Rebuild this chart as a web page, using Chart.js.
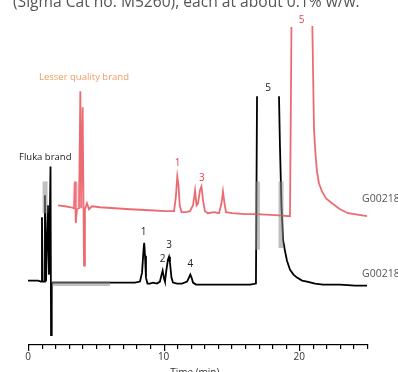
<!DOCTYPE html>
<html>
<head>
<meta charset="utf-8">
<script src="https://cdn.jsdelivr.net/npm/chart.js@4"></script>
<style>
  html, body { margin: 0; padding: 0; background: #fff; }
  #wrap { width: 398px; height: 372px; }
</style>
</head>
<body>
<div id="wrap"><canvas id="grafico"></canvas></div>
<script>
const flukaTempo = [0, 0.74, 0.96, 1.03, 1.08, 1.18, 1.25, 1.33, 1.47, 1.55, 1.66, 1.70, 1.75, 1.84,
    2.36, 3.83, 5.31, 6.78, 7.89, 8.26, 8.41, 8.52, 8.57, 8.63, 8.70, 8.81, 8.99, 9.22, 9.51,
    9.73, 9.85, 9.93, 10.03, 10.10, 10.21, 10.32, 10.40, 10.47, 10.58, 10.69, 10.99, 11.36,
    11.73, 11.87, 11.97, 12.06, 12.17, 12.39, 13.05, 14.16, 15.27, 16.37, 16.81, 16.89, 17.7,
    18.51, 18.58, 18.69, 18.81, 18.95, 19.10, 19.32, 19.58, 19.84, 20.21, 20.58, 21.17, 21.76,
    23.01, 24.12, 25.0];
const flukaSinal = [64, 64, 63, 128, 63, 63, 150, 63, 140, 70, 179, 9, 60, 62,
    62, 62, 62, 62, 62, 63, 72, 95, 102, 89, 67, 61, 61, 62, 61,
    63, 70, 74, 66, 63, 75, 85, 88, 82, 67, 62, 61, 61,
    63, 67, 70, 67, 62, 60, 60, 60, 60, 60, 61, 250, null,
    250, 200, 140, 105, 94, 84, 75, 70, 67, 64, 63, 61, 60,
    60, 59, 59];

const inferiorTempo = [2.21, 2.73, 3.17, 3.39, 3.47, 3.52, 3.61, 3.76, 3.86, 3.92, 4.03, 4.13, 4.20,
    4.35, 4.50, 4.72, 5.31, 6.42, 7.52, 9.00, 10.10, 10.77, 10.90, 11.01, 11.10, 11.19, 11.32,
    11.65, 11.95, 12.17, 12.32, 12.43, 12.54, 12.68, 12.79, 12.91, 13.05, 13.27, 13.72, 14.09,
    14.27, 14.38, 14.49, 14.60, 15.04, 16.00, 16.81, 18.21, 19.32, 19.43, 20.2, 20.97, 21.09,
    21.20, 21.31, 21.46, 21.68, 21.98, 22.42, 23.01, 23.60, 25.0, 27.29];
const inferiorSinal = [140, 139, 138, 137, 164, 122, 136, 137, 255, 137, 239, 79, 136,
    142, 136, 139, 138, 137, 136, 135, 134, 134, 148, 169, 160, 140, 133,
    133, 134, 140, 155, 140, 142, 155, 159, 145, 134, 132, 133, 132,
    142, 154, 142, 133, 132, 131, 131, 130, 129, 320, null, 321, 217,
    192, 174, 162, 154, 147, 142, 136, 132, 129, 127];

// borrões cinzentos da digitalização
const borraoTempo = [1.77, 6.05, 6.1, 1.26, 1.26, 1.3, 16.92, 16.92, 17.0, 18.66, 18.66];
const borraoSinal = [61, 61, null, 164, 132, null, 164, 95, null, 164, 97];
const borraoVermTempo = [3.30, 4.15];
const borraoVermSinal = [150, 150];

// picos identificados
const picosFluka = ['1', '2', '3', '4', '5'];
const picosFlukaTempo = [8.53, 9.93, 10.40, 11.97, 17.70];
const picosFlukaSinal = [113, 86, 100, 81, 258];
const picosInferior = ['1', '3', '5'];
const picosInferiorTempo = [11.04, 12.83, 20.18];
const picosInferiorSinal = [182, 167, 327];

const eixoTicks = [0, 10, 20];
const minutos = [0, 1, 2, 3, 4, 5, 6, 7, 8, 9, 10, 11, 12, 13, 14, 15, 16, 17, 18, 19, 20, 21, 22, 23, 24, 25];

function pontos(tempos, sinais) {
    return tempos.map((t, i) => ({ x: t, y: sinais[i] }));
}

const fonte = '"Open Sans", "Noto Sans", sans-serif';

const textos = {
    id: 'textos',
    afterDraw(chart) {
        const ctx = chart.ctx;
        const xs = chart.scales.x;
        const ys = chart.scales.y;
        ctx.save();
        ctx.textAlign = 'center';
        ctx.textBaseline = 'middle';
        ctx.font = '10px ' + fonte;
        ctx.fillStyle = '#222';
        picosFluka.forEach((p, i) => {
            ctx.fillText(p, xs.getPixelForValue(picosFlukaTempo[i]), ys.getPixelForValue(picosFlukaSinal[i]));
        });
        ctx.fillStyle = '#e8404a';
        picosInferior.forEach((p, i) => {
            ctx.fillText(p, xs.getPixelForValue(picosInferiorTempo[i]), ys.getPixelForValue(picosInferiorSinal[i]));
        });

        // eixo e ticks: menores a cada minuto, maiores nos rótulos
        const yEixo = Math.round(chart.chartArea.bottom);
        ctx.fillStyle = '#000';
        ctx.fillRect(Math.round(xs.left), yEixo, Math.round(xs.right - xs.left) + 1, 1.2);
        minutos.forEach(t => {
            const px = Math.round(xs.getPixelForValue(t));
            ctx.fillRect(px, yEixo, 1.2, eixoTicks.includes(t) ? 7 : 5);
        });

        ctx.textAlign = 'left';
        ctx.font = '9.5px ' + fonte;
        ctx.fillStyle = '#f39a62';
        ctx.fillText('Lesser quality brand', 39, 77);
        ctx.fillStyle = '#222';
        ctx.fillText('Fluka brand', 19, 157);
        ctx.font = '10.5px ' + fonte;
        ctx.fillStyle = '#555';
        ctx.fillText('G00218', 362, 199);
        ctx.fillText('G00218', 362, 274);

        ctx.font = '15.6px ' + fonte;
        ctx.textBaseline = 'alphabetic';
        ctx.fillText('(Sigma Cat no. M5260), each at about 0.1% w/w.', 13, 7);

        ctx.textAlign = 'center';
        ctx.font = '10px ' + fonte;
        ctx.fillStyle = '#333';
        ctx.fillText('Time (min)', xs.getPixelForValue(12.3), 376);
        ctx.restore();
    }
};

const ctx = document.getElementById('grafico').getContext('2d');
const chart = new Chart(ctx, {
    type: 'line',
    data: {
        datasets: [{
            label: 'smear',
            data: pontos(borraoTempo, borraoSinal),
            borderColor: 'rgba(140,140,140,0.55)',
            borderWidth: 5,
            pointRadius: 0,
            spanGaps: false
        }, {
            label: 'smear red',
            data: pontos(borraoVermTempo, borraoVermSinal),
            borderColor: 'rgba(238,130,140,0.3)',
            borderWidth: 26,
            borderCapStyle: 'butt',
            pointRadius: 0
        }, {
            label: 'Lesser quality brand',
            data: pontos(inferiorTempo, inferiorSinal),
            borderColor: 'rgba(228,50,60,0.72)',
            borderWidth: 1.8,
            pointRadius: 0,
            spanGaps: false,
            clip: false
        }, {
            label: 'Fluka brand',
            data: pontos(flukaTempo, flukaSinal),
            borderColor: '#000',
            borderWidth: 1.8,
            pointRadius: 0,
            spanGaps: false
        }]
    },
    options: {
        responsive: true,
        maintainAspectRatio: false,
        animation: false,
        layout: { padding: { left: 28, right: 31, top: 17, bottom: 6 } },
        plugins: { legend: { display: false }, tooltip: { enabled: false } },
        scales: {
            x: {
                type: 'linear',
                min: 0,
                max: 25,
                border: { display: false },
                grid: { drawOnChartArea: false, drawTicks: true, tickLength: 4, color: 'rgba(0,0,0,0)' },
                ticks: {
                    stepSize: 1,
                    autoSkip: false,
                    maxRotation: 0,
                    padding: 3,
                    color: '#333',
                    font: { family: fonte, size: 10 },
                    callback: v => (eixoTicks.includes(v) ? v : '')
                }
            },
            y: {
                display: false,
                min: 0,
                max: 330
            }
        }
    },
    plugins: [textos]
});
</script>
</body>
</html>
